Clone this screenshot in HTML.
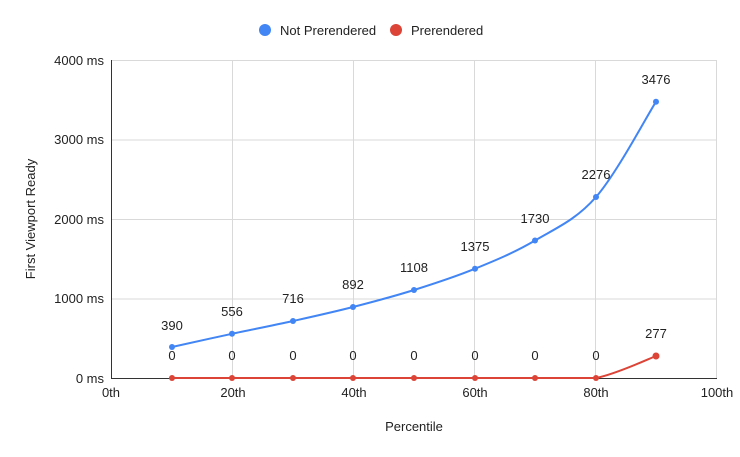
<!DOCTYPE html>
<html><head><meta charset="utf-8"><style>
body{margin:0;background:#fff}
svg{display:block;font-family:"Liberation Sans",Arial,sans-serif}
</style></head><body>
<svg width="740" height="457" viewBox="0 0 740 457">
<rect width="740" height="457" fill="#fff"/>
<g stroke="#d9d9d9" stroke-width="1">
<line x1="111" y1="60.5" x2="717" y2="60.5"/>
<line x1="111" y1="140" x2="717" y2="140"/>
<line x1="111" y1="219.5" x2="717" y2="219.5"/>
<line x1="111" y1="299" x2="717" y2="299"/>
<line x1="232.5" y1="60" x2="232.5" y2="378"/>
<line x1="353.5" y1="60" x2="353.5" y2="378"/>
<line x1="474.5" y1="60" x2="474.5" y2="378"/>
<line x1="595.5" y1="60" x2="595.5" y2="378"/>
<line x1="716.5" y1="60" x2="716.5" y2="378"/>
</g>
<line x1="111.5" y1="60" x2="111.5" y2="378" stroke="#333"/>
<line x1="111" y1="378.5" x2="717" y2="378.5" stroke="#333"/>
<g font-size="13" fill="#222" text-anchor="end">
<text x="104" y="65">4000 ms</text>
<text x="104" y="144">3000 ms</text>
<text x="104" y="224">2000 ms</text>
<text x="104" y="303">1000 ms</text>
<text x="104" y="383">0 ms</text>
</g>
<g font-size="13" fill="#222" text-anchor="middle">
<text x="111" y="397">0th</text>
<text x="233" y="397">20th</text>
<text x="354" y="397">40th</text>
<text x="475" y="397">60th</text>
<text x="596" y="397">80th</text>
<text x="717" y="397">100th</text>
<text x="414" y="431">Percentile</text>
</g>
<text transform="translate(35,219) rotate(-90)" font-size="13" fill="#222" text-anchor="middle">First Viewport Ready</text>
<circle cx="265" cy="30" r="6" fill="#4285f4"/>
<text x="280" y="35" font-size="13" fill="#222">Not Prerendered</text>
<circle cx="396" cy="30" r="6" fill="#db4437"/>
<text x="411" y="35" font-size="13" fill="#222">Prerendered</text>
<path d="M172,347 C182,344.8 211.8,338.1 232,333.8 C252.2,329.5 272.8,325.5 293,321 C313.2,316.5 332.8,312.2 353,307 C373.2,301.8 393.7,296.4 414,290 C434.3,283.6 454.8,277 475,268.7 C495.2,260.5 514.8,252.4 535,240.5 C555.2,228.5 575.8,220.1 596,197 C616.2,173.9 646,117.6 656,101.7" fill="none" stroke="#4285f4" stroke-width="2"/>
<path d="M172,378 L596,378 C616,374 646,360 656,356" fill="none" stroke="#db4437" stroke-width="2"/>
<g fill="#4285f4">
<circle cx="172" cy="347" r="3"/><circle cx="232" cy="333.8" r="3"/><circle cx="293" cy="321" r="3"/><circle cx="353" cy="307" r="3"/><circle cx="414" cy="290" r="3"/><circle cx="475" cy="268.7" r="3"/><circle cx="535" cy="240.5" r="3"/><circle cx="596" cy="197" r="3"/><circle cx="656" cy="101.7" r="3"/>
</g>
<g fill="#db4437">
<circle cx="172" cy="378" r="3"/><circle cx="232" cy="378" r="3"/><circle cx="293" cy="378" r="3"/><circle cx="353" cy="378" r="3"/><circle cx="414" cy="378" r="3"/><circle cx="475" cy="378" r="3"/><circle cx="535" cy="378" r="3"/><circle cx="596" cy="378" r="3"/><circle cx="656" cy="356" r="3.5"/>
</g>
<g font-size="13" fill="#222" text-anchor="middle">
<text x="172" y="330">390</text><text x="232" y="316">556</text><text x="293" y="303">716</text><text x="353" y="289">892</text><text x="414" y="272">1108</text><text x="475" y="251">1375</text><text x="535" y="223">1730</text><text x="596" y="179">2276</text><text x="656" y="84">3476</text>
<text x="172" y="360">0</text><text x="232" y="360">0</text><text x="293" y="360">0</text><text x="353" y="360">0</text><text x="414" y="360">0</text><text x="475" y="360">0</text><text x="535" y="360">0</text><text x="596" y="360">0</text><text x="656" y="338">277</text>
</g>
</svg>
</body></html>
